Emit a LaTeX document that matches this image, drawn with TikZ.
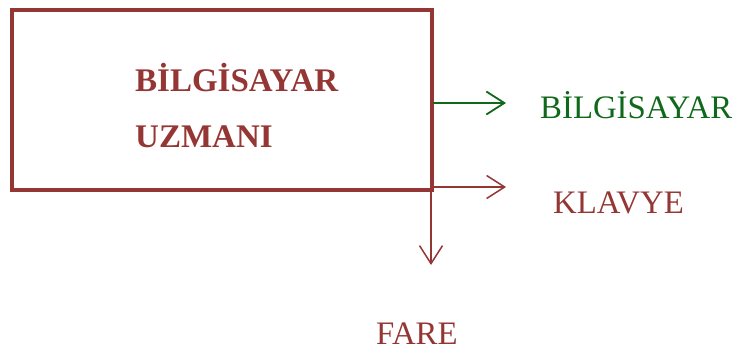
\documentclass[tikz,border=0pt]{standalone}
\usepackage{fontspec}
\setmainfont{Liberation Serif}
\usetikzlibrary{arrows.meta}
\definecolor{dred}{RGB}{148,54,52}
\definecolor{dgreen}{RGB}{16,104,26}
\tikzset{
  lbl/.style={inner sep=0pt, anchor=base west, font=\fontsize{32.8}{38}\selectfont},
  arr/.style={-{Straight Barb[length=18pt,width=23pt]}, line width=1.8pt},
}
\begin{document}
\begin{tikzpicture}[x=1pt,y=-1pt]
\useasboundingbox (0,0) rectangle (738,351);
\node[draw=dred, line width=4pt, minimum width=420pt, minimum height=180pt, inner sep=0pt, outer sep=0pt] (box) at (222,100) {};
\node[lbl, text=dred, font=\fontsize{33}{38}\selectfont\bfseries] (t1) at (135,91) {BİLGİSAYAR};
\node[lbl, text=dred, font=\fontsize{33}{38}\selectfont\bfseries] (t2) at (135,147) {UZMANI};
\node[lbl, text=dgreen] (t3) at (540,118) {BİLGİSAYAR};
\node[lbl, text=dred] (t4) at (553,213) {KLAVYE};
\node[lbl, text=dred] (t5) at (376,344) {FARE};
\coordinate (gs) at (433,103);
\coordinate (ge) at (506,103);
\coordinate (rs) at (432,187);
\coordinate (re) at (506,187);
\coordinate (ds) at (431,190);
\coordinate (de) at (431,265);
\draw[arr, draw=dgreen] (gs) -- (ge);
\draw[arr, draw=dred, line width=1.5pt] (rs) -- (re);
\draw[arr, draw=dred, line width=1.5pt] (ds) -- (de);
\end{tikzpicture}
\end{document}
